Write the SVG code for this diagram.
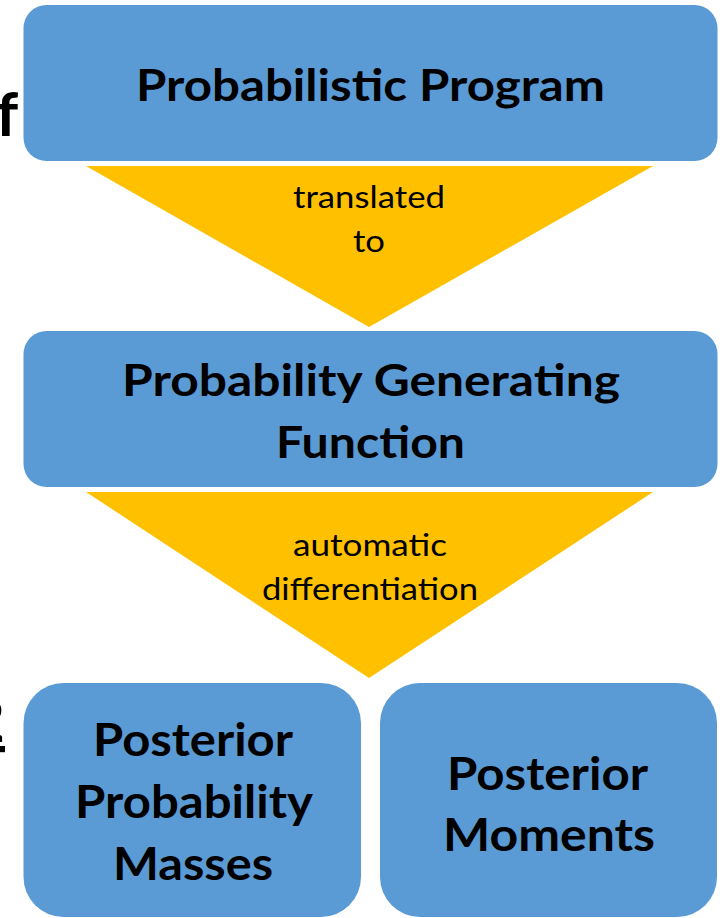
<svg xmlns="http://www.w3.org/2000/svg" width="725" height="918" viewBox="0 0 725 918">
<style>
.box{fill:#5B9BD5}
.tri{fill:#FFC000}
.h{font-family:Lato,"Liberation Sans",sans-serif;font-weight:bold;fill:#000;text-anchor:middle}
.l{font-family:Lato,"Liberation Sans",sans-serif;font-size:30px;fill:#000;text-anchor:middle}
</style>
<rect width="725" height="918" fill="#fff"/>
<g id="fragments">
<text x="-4" y="136" font-family="Lato,'Liberation Sans',sans-serif" font-weight="bold" font-size="62">f</text>
<text x="-31" y="742" font-family="Lato,'Liberation Sans',sans-serif" font-weight="bold" font-size="62" text-decoration="underline">2</text>
</g>
<g id="connectors">
<g id="c1"><polygon class="tri" points="86,166 653,166 369,327"/>
<text class="l" x="369" y="208" textLength="152" lengthAdjust="spacingAndGlyphs">translated</text>
<text class="l" x="369" y="252" textLength="32" lengthAdjust="spacingAndGlyphs">to</text></g>
<g id="c2"><polygon class="tri" points="86,492 653,492 369,678"/>
<text class="l" x="370" y="556" textLength="154" lengthAdjust="spacingAndGlyphs">automatic</text>
<text class="l" x="370" y="600" textLength="216" lengthAdjust="spacingAndGlyphs">differentiation</text></g>
</g>
<g id="n1"><rect class="box" x="23.5" y="5" width="694" height="156" rx="23"/>
<text class="h" x="370.5" y="101" font-size="43" textLength="469" lengthAdjust="spacingAndGlyphs">Probabilistic Program</text></g>
<g id="n2"><rect class="box" x="23.5" y="331" width="694" height="156" rx="23"/>
<text class="h" x="371" y="396" font-size="43" textLength="498" lengthAdjust="spacingAndGlyphs">Probability Generating</text>
<text class="h" x="370.5" y="458" font-size="43" textLength="189" lengthAdjust="spacingAndGlyphs">Function</text></g>
<g id="n3"><rect class="box" x="23.5" y="683" width="337.5" height="234" rx="40"/>
<text class="h" x="193" y="756" font-size="46" textLength="200" lengthAdjust="spacingAndGlyphs">Posterior</text>
<text class="h" x="194" y="818" font-size="46" textLength="238" lengthAdjust="spacingAndGlyphs">Probability</text>
<text class="h" x="193" y="880" font-size="46" textLength="160" lengthAdjust="spacingAndGlyphs">Masses</text></g>
<g id="n4"><rect class="box" x="380" y="683" width="337" height="234" rx="40"/>
<text class="h" x="547.5" y="790" font-size="46" textLength="201" lengthAdjust="spacingAndGlyphs">Posterior</text>
<text class="h" x="549" y="851" font-size="46" textLength="212" lengthAdjust="spacingAndGlyphs">Moments</text></g>
</svg>
